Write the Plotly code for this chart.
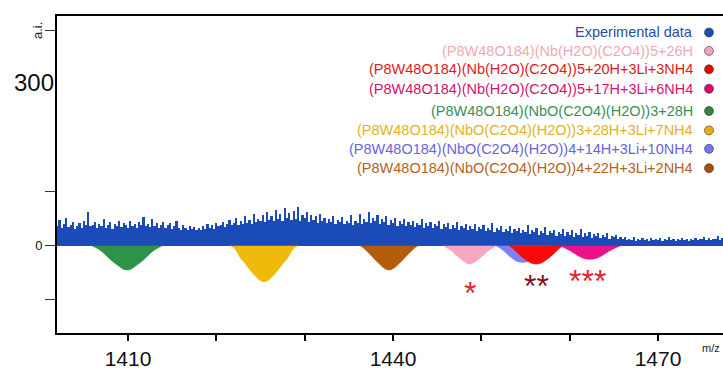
import numpy as np
import plotly.graph_objects as go

# ---------------- data ----------------
mz_start = 1402.0
mz_step = 0.25
exp_intensity = [
    36, 48, 33, 40, 52, 35, 38, 44, 31, 37, 42, 34, 46, 39, 63, 36,
    38, 45, 33, 41, 36, 50, 34, 39, 44, 32, 40, 37, 47, 35, 42, 38,
    34, 46, 37, 41, 33, 44, 38, 53, 36, 40, 35, 49, 37, 43, 34, 39,
    45, 33, 38, 42, 31, 36, 47, 34, 30, 39, 33, 29, 37, 31, 35, 30,
    33, 29, 36, 31, 40, 34, 38, 32, 43, 36, 39, 45, 35, 41, 48, 38,
    42, 51, 39, 46, 40, 55, 43, 48, 41, 60, 45, 50, 47, 58, 44, 62,
    48, 56, 46, 66, 50, 59, 47, 70, 52, 61, 48, 64, 50, 73, 47, 58,
    51, 62, 45, 57, 48, 55, 43, 60, 46, 52, 42, 50, 45, 56, 41, 48,
    44, 53, 40, 47, 43, 57, 39, 46, 42, 60, 41, 49, 45, 63, 42, 52,
    46, 58, 40, 50, 44, 55, 39, 48, 42, 51, 37, 46, 40, 49, 36, 44,
    39, 47, 35, 43, 38, 50, 34, 42, 37, 45, 33, 41, 36, 47, 32, 40,
    35, 43, 31, 38, 34, 44, 30, 37, 33, 41, 29, 36, 32, 40, 28, 35,
    31, 38, 27, 34, 30, 42, 26, 33, 29, 37, 25, 32, 28, 36, 24, 31,
    27, 34, 23, 30, 26, 38, 22, 29, 25, 33, 21, 28, 24, 35, 20, 27,
    23, 30, 19, 26, 22, 31, 18, 25, 21, 29, 17, 24, 20, 32, 16, 23,
    19, 26, 15, 22, 18, 24, 14, 20, 17, 23, 13, 19, 16, 21, 12, 17,
    12, 16, 10, 13, 11, 17, 9, 12, 11, 15, 10, 13, 9, 14, 11, 12,
    10, 14, 9, 12, 11, 16, 10, 13, 9, 12, 11, 15, 10, 13, 9, 12,
    11, 14, 10, 13, 12, 17, 10, 14, 11, 13, 12, 18, 11, 15, 12, 16,
]

green_mz = [1405.9, 1406.4, 1406.9, 1407.4, 1407.9, 1408.4, 1408.9, 1409.4, 1409.9,
            1410.4, 1410.9, 1411.4, 1411.9, 1412.4, 1412.9, 1413.4, 1413.9]
green_int = [0, -4, -9, -16, -24, -31, -37, -43, -45, -43, -37, -31, -24, -16, -9, -4, 0]
yellow_mz = [1421.5, 1422.0, 1422.35, 1422.7, 1423.25, 1423.8, 1424.4, 1424.9, 1425.4,
             1425.9, 1426.4, 1427.0, 1427.55, 1428.1, 1428.45, 1428.8, 1429.3]
yellow_int = [0, -4, -12, -22, -33, -45, -56, -64, -67, -64, -56, -45, -33, -22, -12, -4, 0]
brown_mz = [1436.25, 1436.65, 1437.15, 1437.75, 1438.35, 1438.95, 1439.55,
            1440.15, 1440.75, 1441.35, 1441.95, 1442.45, 1442.85]
brown_int = [0, -4, -12, -22, -32, -41, -45, -41, -32, -22, -12, -4, 0]
pink_mz = [1445.7, 1446.0, 1446.6, 1447.2, 1447.7, 1448.2, 1448.7,
           1449.2, 1449.7, 1450.2, 1450.8, 1451.4, 1451.7]
pink_int = [0, -3, -9, -18, -25, -31, -34, -31, -25, -18, -9, -3, 0]
lavender_mz = [1451.6, 1452.1, 1452.7, 1453.3, 1453.9, 1454.3, 1454.7,
               1455.1, 1455.5, 1456.1, 1456.7, 1457.3, 1457.8]
lavender_int = [0, -4, -12, -21, -28, -30, -31, -30, -28, -21, -12, -4, 0]
red_mz = [1453.1, 1453.5, 1453.9, 1454.4, 1455.0, 1455.6, 1456.2,
          1456.8, 1457.4, 1458.0, 1458.5, 1458.9, 1459.3]
red_int = [0, -4, -10, -18, -26, -32, -34, -32, -26, -18, -10, -4, 0]
magenta_mz = [1458.8, 1459.3, 1459.9, 1460.5, 1461.1, 1461.7, 1462.3,
              1462.9, 1463.5, 1464.1, 1464.7, 1465.3, 1465.8]
magenta_int = [0, -3, -8, -14, -20, -24, -25, -24, -20, -14, -8, -3, 0]

legend_labels = [
    "Experimental data",
    "(P8W48O184)(Nb(H2O)(C2O4))5+26H",
    "(P8W48O184)(Nb(H2O)(C2O4))5+20H+3Li+3NH4",
    "(P8W48O184)(Nb(H2O)(C2O4))5+17H+3Li+6NH4",
    "(P8W48O184)(NbO(C2O4)(H2O))3+28H",
    "(P8W48O184)(NbO(C2O4)(H2O))3+28H+3Li+7NH4",
    "(P8W48O184)(NbO(C2O4)(H2O))4+14H+3Li+10NH4",
    "(P8W48O184)(NbO(C2O4)(H2O))4+22H+3Li+2NH4",
]
x_tick_vals = [1410, 1420, 1430, 1440, 1450, 1460, 1470]
x_tick_text = ["1410", "", "", "1440", "", "", "1470"]
y_tick_vals = [-100, 0, 100, 400]
y_tick_text = ["", "0", "", ""]

# ---------------- styles ----------------
FONT = "Arial, Liberation Sans, sans-serif"
marker_colors = ["#1a4fb8", "#f4a3bd", "#ee0000", "#e6006e", "#2a8a3e", "#e8b000", "#7373f5", "#a84e0c"]
text_colors = ["#1f4f9f", "#f2a9b6", "#e01a1c", "#d8106c", "#3a8f5a", "#e2b21c", "#6a64e0", "#b5611e"]

mz = mz_start + mz_step * np.arange(len(exp_intensity))

fig = go.Figure()

peaks = [
    (green_mz, green_int, "#2e9248"),
    (yellow_mz, yellow_int, "#efba0a"),
    (brown_mz, brown_int, "#b25c0c"),
    (pink_mz, pink_int, "#f5a7c3"),
    (lavender_mz, lavender_int, "#8080f0"),
    (red_mz, red_int, "#f80a0a"),
    (magenta_mz, magenta_int, "#ee1088"),
]
for px, py, col in peaks:
    fig.add_trace(go.Scatter(
        x=px, y=py, mode="lines", line=dict(color=col, width=0.5, shape="spline", smoothing=0.8),
        fill="tozeroy", fillcolor=col, hoverinfo="skip", showlegend=False))

fig.add_trace(go.Bar(
    x=mz, y=exp_intensity, width=mz_step, marker=dict(color="#1b4bb7", line=dict(width=0)),
    hoverinfo="skip", showlegend=False))

annotations = []
shapes = []
row_y = [33, 52, 71, 91, 114, 134, 153, 173]
plot_l, plot_w, plot_b, plot_h = 57, 666, 343, 327
for lbl, tc, mc, ry in zip(legend_labels, text_colors, marker_colors, row_y):
    yp = (plot_b - ry) / plot_h
    annotations.append(dict(
        xref="paper", yref="paper", x=(695 - plot_l) / plot_w, y=yp, xanchor="right", yanchor="middle",
        text=lbl, showarrow=False, font=dict(family=FONT, size=14.5, color=tc)))
    shapes.append(dict(
        type="circle", xref="paper", yref="paper", xsizemode="pixel", ysizemode="pixel",
        xanchor=(709 - plot_l) / plot_w, yanchor=yp, x0=-4.5, x1=4.5, y0=-4.5, y1=4.5,
        fillcolor=mc, line=dict(color="#333333", width=0.6)))

# axis extras
annotations.append(dict(xref="paper", yref="y", x=0, y=300, xanchor="right", yanchor="middle", xshift=-1, yshift=2,
                        text="300", showarrow=False, font=dict(family=FONT, size=24, color="#111111")))
annotations.append(dict(xref="paper", yref="y", x=0, y=400, xanchor="right", yanchor="middle", xshift=-10,
                        text="a.i.", textangle=-90, showarrow=False, font=dict(family=FONT, size=13, color="#222222")))
annotations.append(dict(xref="paper", yref="paper", x=(711 - plot_l) / plot_w, y=0, xanchor="center", yanchor="top",
                        yshift=-7, text="m/z", showarrow=False, font=dict(family=FONT, size=11, color="#222222")))

# asterisks
annotations.append(dict(x=1448.7, y=-88, text="*", showarrow=False, font=dict(family=FONT, size=32, color="#e8202c")))
annotations.append(dict(x=1456.2, y=-75, text="**", showarrow=False, font=dict(family=FONT, size=32, color="#8a0c1e")))
annotations.append(dict(x=1462.0, y=-66, text="***", showarrow=False, font=dict(family=FONT, size=32, color="#e8202c")))

fig.update_layout(
    width=723, height=370,
    margin=dict(l=57, r=0, t=16, b=27),
    paper_bgcolor="white", plot_bgcolor="white",
    showlegend=False, bargap=0,
    annotations=annotations, shapes=shapes,
    xaxis=dict(range=[1401.96, 1477.36], showgrid=False, zeroline=False,
               showline=True, linecolor="black", linewidth=2, mirror=True,
               ticks="outside", ticklen=6, tickwidth=1.5, tickcolor="black",
               tickvals=x_tick_vals, ticktext=x_tick_text,
               tickfont=dict(family=FONT, size=21, color="#111111")),
    yaxis=dict(range=[-162, 427], showgrid=False, zeroline=False,
               showline=True, linecolor="black", linewidth=2, mirror=False,
               ticks="outside", ticklen=10, tickwidth=1.2, tickcolor="#333333",
               tickvals=y_tick_vals, ticktext=y_tick_text,
               tickfont=dict(family=FONT, size=13, color="#111111")),
)

fig.write_html("out.html", config={"displayModeBar": False},
               post_script="document.body.style.margin='0';")
